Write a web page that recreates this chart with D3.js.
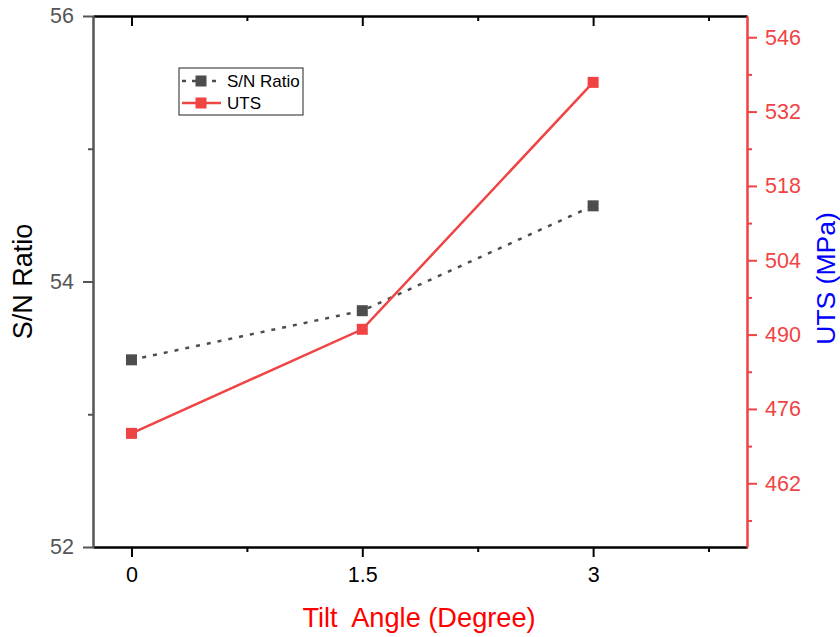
<!DOCTYPE html>
<html>
<head>
<meta charset="utf-8">
<script src="https://cdn.jsdelivr.net/npm/d3@7"></script>
<style>
  body { margin: 0; background: #fff; }
  svg text { font-family: Arial, "Liberation Sans", sans-serif; }
</style>
</head>
<body>
<svg id="chart"></svg>
<script>
// Donnees
const tiltAngles = [0, 1.5, 3];
const snRatio = [53.41, 53.78, 54.57];
const uts = [471.4, 491.0, 537.5];

const xTicks = [0, 1.5, 3];
const xMinorTicks = [0.75, 2.25, 3.75];
const snTicks = [52, 54, 56];
const snMinorTicks = [53, 55];
const utsTicks = [462, 476, 490, 504, 518, 532, 546];
const utsMinorTicks = [455, 469, 483, 497, 511, 525, 539];

const width = 840;
const height = 637;
const plotLeft = 93, plotRight = 747, plotTop = 16, plotBottom = 547;

const grey = "#555555";
const dark = "#4d4d4d";
const red = "#f04343";

const svg = d3.select("#chart")
  .attr("width", width)
  .attr("height", height);

const x = d3.scaleLinear().domain([-0.25, 4]).range([plotLeft, plotRight]);
const ySN = d3.scaleLinear().domain([52, 56]).range([plotBottom, plotTop]);
const yUTS = d3.scaleLinear().domain([450, 550]).range([plotBottom, plotTop]);

function styleAxis(g, color, fontSize) {
  g.select(".domain").attr("stroke", color).attr("stroke-width", 2);
  g.selectAll(".tick line").attr("stroke", color).attr("stroke-width", 2);
  g.selectAll(".tick text")
    .attr("fill", color)
    .style("font-size", fontSize + "px");
}

// axe du bas (majeur + mineur)
const gxMinor = svg.append("g")
  .attr("transform", `translate(0,${plotBottom})`)
  .call(d3.axisBottom(x).tickValues(xMinorTicks).tickSize(5).tickSizeOuter(0).tickFormat(""));
styleAxis(gxMinor, "#000", 21.5);
const gx = svg.append("g")
  .attr("transform", `translate(0,${plotBottom})`)
  .call(d3.axisBottom(x).tickValues(xTicks).tickSize(10).tickSizeOuter(0).tickPadding(10).tickFormat(d3.format("")));
styleAxis(gx, "#000", 21.5);

// axe du haut : ticks vers l'interieur, pas de texte
const gtMinor = svg.append("g")
  .attr("transform", `translate(0,${plotTop})`)
  .call(d3.axisTop(x).tickValues(xMinorTicks).tickSize(-5).tickSizeOuter(0).tickFormat(""));
styleAxis(gtMinor, "#000", 21.5);
const gt = svg.append("g")
  .attr("transform", `translate(0,${plotTop})`)
  .call(d3.axisTop(x).tickValues(xTicks).tickSize(-10).tickSizeOuter(0).tickFormat(""));
styleAxis(gt, "#000", 21.5);

// axe gauche S/N
const gyMinor = svg.append("g")
  .attr("transform", `translate(${plotLeft},0)`)
  .call(d3.axisLeft(ySN).tickValues(snMinorTicks).tickSize(5).tickSizeOuter(0).tickFormat(""));
styleAxis(gyMinor, grey, 21.5);
const gy = svg.append("g")
  .attr("transform", `translate(${plotLeft},0)`)
  .call(d3.axisLeft(ySN).tickValues(snTicks).tickSize(10).tickSizeOuter(0).tickPadding(9).tickFormat(d3.format("d")));
styleAxis(gy, grey, 21.5);

// axe droit UTS
const gy2Minor = svg.append("g")
  .attr("transform", `translate(${plotRight},0)`)
  .call(d3.axisRight(yUTS).tickValues(utsMinorTicks).tickSize(5).tickSizeOuter(0).tickFormat(""));
styleAxis(gy2Minor, red, 21.5);
const gy2 = svg.append("g")
  .attr("transform", `translate(${plotRight},0)`)
  .call(d3.axisRight(yUTS).tickValues(utsTicks).tickSize(10).tickSizeOuter(0).tickPadding(8).tickFormat(d3.format("d")));
styleAxis(gy2, red, 21.5);

// titres des axes
svg.append("text")
  .text("Tilt  Angle (Degree)")
  .attr("x", (plotLeft + plotRight) / 2 - 1)
  .attr("y", 627)
  .attr("text-anchor", "middle")
  .attr("fill", "#ff0000")
  .style("font-size", "27.2px")
  .style("white-space", "pre");

svg.append("text")
  .text("S/N Ratio")
  .attr("transform", `translate(32,${(plotTop + plotBottom) / 2}) rotate(-90)`)
  .attr("text-anchor", "middle")
  .attr("fill", "#000")
  .style("font-size", "27px");

svg.append("text")
  .text("UTS (MPa)")
  .attr("transform", `translate(835,${(plotTop + plotBottom) / 2 - 3}) rotate(-90)`)
  .attr("text-anchor", "middle")
  .attr("fill", "#0000ff")
  .style("font-size", "26.5px");

// courbes
const snData = tiltAngles.map((t, i) => ({ x: t, y: snRatio[i] }));
const utsData = tiltAngles.map((t, i) => ({ x: t, y: uts[i] }));

svg.append("path")
  .datum(snData)
  .attr("fill", "none")
  .attr("stroke", dark)
  .attr("stroke-width", 2.5)
  .attr("stroke-dasharray", "4,7")
  .attr("d", d3.line().x(d => x(d.x)).y(d => ySN(d.y)));

svg.append("path")
  .datum(utsData)
  .attr("fill", "none")
  .attr("stroke", red)
  .attr("stroke-width", 2.5)
  .attr("d", d3.line().x(d => x(d.x)).y(d => yUTS(d.y)));

const m = 11;
svg.selectAll("rect.sn")
  .data(snData)
  .enter().append("rect")
  .attr("class", "sn")
  .attr("x", d => x(d.x) - m / 2)
  .attr("y", d => ySN(d.y) - m / 2)
  .attr("width", m)
  .attr("height", m)
  .attr("fill", dark);

svg.selectAll("rect.uts")
  .data(utsData)
  .enter().append("rect")
  .attr("class", "uts")
  .attr("x", d => x(d.x) - m / 2)
  .attr("y", d => yUTS(d.y) - m / 2)
  .attr("width", m)
  .attr("height", m)
  .attr("fill", red);

// legende
const legend = svg.append("g").attr("transform", "translate(179,68)");
legend.append("rect")
  .attr("width", 124)
  .attr("height", 47)
  .attr("fill", "#fff")
  .attr("stroke", "#222")
  .attr("stroke-width", 1);

const legendItems = [
  { label: "S/N Ratio", color: dark, dash: "4,6" },
  { label: "UTS", color: red, dash: null }
];
legendItems.forEach((it, i) => {
  const yy = 13 + i * 22;
  legend.append("line")
    .attr("x1", 3).attr("x2", 42)
    .attr("y1", yy).attr("y2", yy)
    .attr("stroke", it.color)
    .attr("stroke-width", 2.5)
    .attr("stroke-dasharray", it.dash);
  legend.append("rect")
    .attr("x", 22 - m / 2).attr("y", yy - m / 2)
    .attr("width", m).attr("height", m)
    .attr("fill", it.color);
  legend.append("text")
    .text(it.label)
    .attr("x", 48)
    .attr("y", yy + 6)
    .attr("fill", "#000")
    .style("font-size", "17px");
});
</script>
</body>
</html>
